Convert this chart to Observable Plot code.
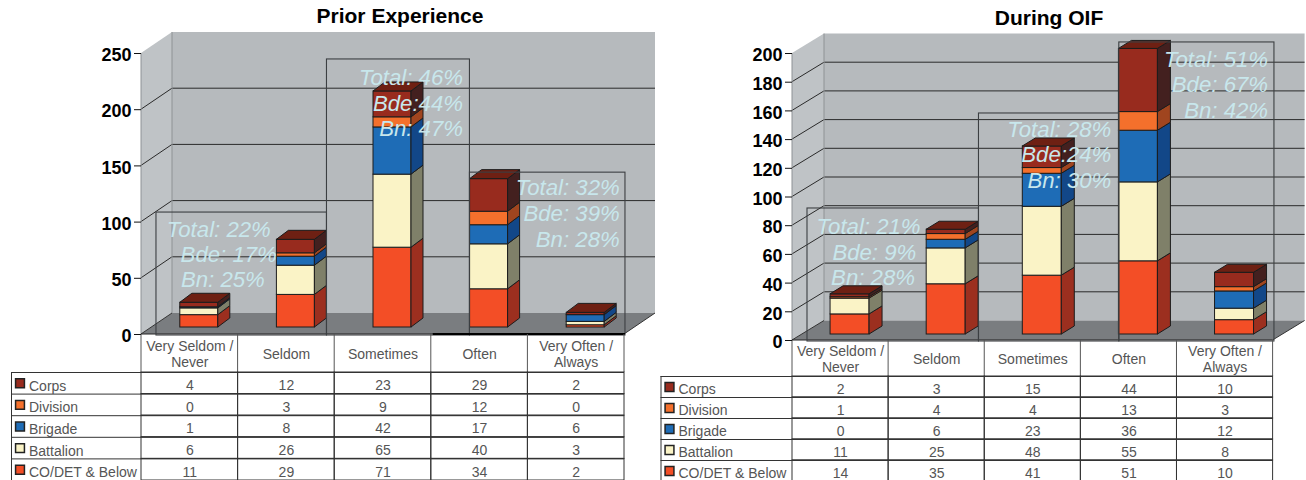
<!DOCTYPE html>
<html>
<head>
<meta charset="utf-8">
<script src="https://cdn.jsdelivr.net/npm/d3@7"></script>
<script src="https://cdn.jsdelivr.net/npm/@observablehq/plot@0.6"></script>
<style>
html,body{margin:0;padding:0;background:#fff;overflow:hidden;width:1306px;height:480px}
#page{position:relative;width:1306px;height:480px;overflow:hidden;font-family:"Liberation Sans",Arial,sans-serif}
#page>div,#page>svg,#page>figure{position:absolute;margin:0}
.title{font:bold 21px "Liberation Sans",Arial,sans-serif;color:#000;text-align:center;white-space:nowrap}
</style>
</head>
<body>
<div id="page"></div>
<script>
const categories = ["Very Seldom /\nNever", "Seldom", "Sometimes", "Often", "Very Often /\nAlways"];
const seriesNames = ["CO/DET & Below", "Battalion", "Brigade", "Division", "Corps"];
const seriesFront = ["#f34e26", "#faf3c6", "#1e6cb6", "#f4702c", "#982b1e"];
const seriesSide  = ["#9c2f1f", "#7f8069", "#124788", "#a0451f", "#43201f"];
const seriesTop   = ["#a8351f", "#8c8b70", "#14406f", "#a0451f", "#6e2013"];

const priorCoDet     = [11, 29, 71, 34, 2];
const priorBattalion = [6, 26, 65, 40, 3];
const priorBrigade   = [1, 8, 42, 17, 6];
const priorDivision  = [0, 3, 9, 12, 0];
const priorCorps     = [4, 12, 23, 29, 2];
const priorTicks     = [0, 50, 100, 150, 200, 250];
const priorNotes = [
  ["Total: 22%", 0, 93.4], ["Bde: 17%", 0, 71], ["Bn: 25%", 0, 49],
  ["Total: 46%", 2, 228.6], ["Bde:44%", 2, 205.5], ["Bn: 47%", 2, 183],
  ["Total: 32%", 4, 130], ["Bde: 39%", 4, 107], ["Bn: 28%", 4, 84]
];

const oifCoDet     = [14, 35, 41, 51, 10];
const oifBattalion = [11, 25, 48, 55, 8];
const oifBrigade   = [0, 6, 23, 36, 12];
const oifDivision  = [1, 4, 4, 13, 3];
const oifCorps     = [2, 3, 15, 44, 10];
const oifTicks     = [0, 20, 40, 60, 80, 100, 120, 140, 160, 180, 200];
const oifNotes = [
  ["Total: 21%", 0, 79.4], ["Bde: 9%", 0, 61.3], ["Bn: 28%", 0, 43.9],
  ["Total: 28%", 2, 147], ["Bde:24%", 2, 129], ["Bn: 30%", 2, 111],
  ["Total: 51%", 4, 195.8], ["Bde: 67%", 4, 178.4], ["Bn: 42%", 4, 160.3]
];

const NS = "http://www.w3.org/2000/svg";
function el(parent, tag, attrs) {
  const e = document.createElementNS(NS, tag);
  for (const k in attrs) e.setAttribute(k, attrs[k]);
  parent.appendChild(e);
  return e;
}
function poly(parent, pts, fill, stroke, sw) {
  return el(parent, "polygon", {points: pts.map(p => p.join(",")).join(" "), fill, stroke: stroke || "none", "stroke-width": sw || 1, "stroke-linejoin": "round"});
}

function panel(cfg) {
  const page = document.getElementById("page");
  const rowsData = [cfg.coDet, cfg.battalion, cfg.brigade, cfg.division, cfg.corps];
  const flat = [];
  seriesNames.forEach((s, si) => categories.forEach((c, ci) => flat.push({series: s, si, cat: c, ci, value: rowsData[si][ci]})));
  const color = {domain: seriesNames, range: seriesFront};
  const band = d3.scaleBand().domain(categories).range(cfg.xRange);
  const bw = cfg.barW, inset = (band.bandwidth() - bw) / 2;

  const walls = (index, scales) => {
    const g = document.createElementNS(NS, "g");
    const x0 = cfg.xRange[0], x1 = cfg.xRange[1], top = scales.y(cfg.yMax), bot = scales.y(0);
    const w = cfg.wall;
    poly(g, [[x0 + w.dx, top - w.dy], [x1 + w.dx, top - w.dy], [x1 + w.dx, bot - w.dy], [x0 + w.dx, bot - w.dy]], "#b6babd");
    poly(g, [[x0, top], [x0 + w.dx, top - w.dy], [x0 + w.dx, bot - w.dy], [x0, bot]], "#bfc3c6");
    for (const t of cfg.ticks) {
      if (t === 0 || t === cfg.yMax) continue;
      const y = scales.y(t);
      el(g, "line", {x1: x0, y1: y, x2: x0 + w.dx, y2: y - w.dy, stroke: "#2a2a2a", "stroke-width": 1});
      el(g, "line", {x1: x0 + w.dx, y1: y - w.dy, x2: x1 + w.dx, y2: y - w.dy, stroke: "#2a2a2a", "stroke-width": 1});
    }
    el(g, "line", {x1: x0 + w.dx, y1: top - w.dy, x2: x0 + w.dx, y2: bot - w.dy, stroke: "#8e9295"});
    el(g, "line", {x1: x0, y1: top, x2: x0, y2: bot, stroke: "#8e9295"});
    poly(g, [[x0, bot], [x1, bot], [x1 + w.dx, bot - w.dy], [x0 + w.dx, bot - w.dy]], "#7a7d80");
    el(g, "line", {x1: x1, y1: bot, x2: x1 + w.dx, y2: bot - w.dy, stroke: "#333"});
    el(g, "line", {x1: x0, y1: bot, x2: x0 + w.dx, y2: bot - w.dy, stroke: "#333"});
    el(g, "line", {x1: x0, y1: bot, x2: x1, y2: bot, stroke: "#222", "stroke-width": 1});
    return g;
  };

  const faces = (index, scales) => {
    const g = document.createElementNS(NS, "g");
    const ox = cfg.barShift.dx, oy = cfg.barShift.dy, d = cfg.barDepth;
    categories.forEach((c, ci) => {
      const xl = scales.x(c) + inset + ox, xr = xl + bw;
      let acc = 0, topIndex = 0;
      seriesNames.forEach((s, si) => {
        const v = rowsData[si][ci];
        if (!v) return;
        const yb = scales.y(acc) + oy, yt = scales.y(acc + v) + oy;
        poly(g, [[xr, yb], [xr + d.dx, yb - d.dy], [xr + d.dx, yt - d.dy], [xr, yt]], seriesSide[si], "#1c1c1c");
        acc += v; topIndex = si;
      });
      const yt = scales.y(acc) + oy;
      poly(g, [[xl, yt], [xr, yt], [xr + d.dx, yt - d.dy], [xl + d.dx, yt - d.dy]], seriesTop[topIndex], "#1c1c1c");
    });
    return g;
  };

  const overlays = (index, scales) => {
    const g = document.createElementNS(NS, "g");
    const step = band.step();
    const px = f => cfg.xRange[0] + f * step;
    for (const b of cfg.boxes) {
      el(g, "rect", {x: px(b.from), y: scales.y(b.top), width: px(b.to) - px(b.from), height: scales.y(0) - scales.y(b.top) + 1, fill: "none", stroke: "#3c3f42", "stroke-width": 1.1});
    }
    if (cfg.heavy) el(g, "line", {x1: px(cfg.heavy[0]), x2: px(cfg.heavy[1]), y1: scales.y(0), y2: scales.y(0), stroke: "#000", "stroke-width": 2});
    const hb = cfg.height;
    for (let i = 0; i <= categories.length; i++) {
      el(g, "line", {x1: px(i), x2: px(i), y1: scales.y(0), y2: hb, stroke: "#555"});
    }
    return g;
  };

  const notes = cfg.notes.map(([text, ci, value], i) => ({text, cat: categories[ci], value, dx: cfg.noteDx[i]}));

  const chart = Plot.plot({
    width: cfg.width, height: cfg.height,
    marginLeft: cfg.xRange[0], marginRight: cfg.width - cfg.xRange[1],
    marginTop: 0, marginBottom: cfg.height - cfg.yRange[0],
    style: {fontFamily: '"Liberation Sans",Arial,sans-serif', background: "transparent", overflow: "visible"},
    x: {type: "band", domain: categories, range: cfg.xRange, padding: 0, round: false},
    y: {domain: [0, cfg.yMax], range: cfg.yRange},
    color,
    marks: [
      walls,
      Plot.barY(flat.filter(d => d.value > 0), {
        x: "cat", y: "value", fill: "series", stroke: "#1c1c1c", strokeWidth: 1,
        insetLeft: inset, insetRight: inset, dx: cfg.barShift.dx, dy: cfg.barShift.dy
      }),
      faces,
      overlays,
      Plot.axisY({ticks: cfg.ticks, label: null, tickSize: 7, tickFormat: () => "", stroke: "#111"}),
      Plot.axisY({ticks: cfg.ticks, label: null, tickSize: 0, tickPadding: 10, dy: 2, fontSize: 18, fontWeight: "bold", fill: "#000"}),
      Plot.axisX({label: null, tickSize: 0, tickPadding: 0, fontSize: 14, fill: "#555", lineAnchor: "middle", lineHeight: 1.15, dy: cfg.headerDy}),
      ...notes.map(n => Plot.text([n], {
        x: "cat", y: "value", text: "text", dx: n.dx, textAnchor: "end",
        fontSize: 22.2, fontStyle: "italic", fill: "#c8e7ec"
      }))
    ]
  });
  chart.style.left = cfg.left + "px";
  chart.style.top = "0px";
  page.appendChild(chart);

  const rows = seriesNames.slice().reverse();
  const h = cfg.rowH * rows.length;
  const table = Plot.plot({
    width: cfg.width, height: h,
    marginLeft: cfg.tableLeft, marginRight: cfg.width - cfg.xRange[1], marginTop: 0, marginBottom: 0,
    style: {fontFamily: '"Liberation Sans",Arial,sans-serif', background: "transparent", overflow: "visible"},
    x: {type: "band", domain: categories, range: cfg.xRange, padding: 0, round: false, axis: null},
    y: {type: "band", domain: rows, range: [0, h], padding: 0, round: false, axis: null},
    color,
    marks: [
      Plot.cell(flat, {x: "cat", y: "series", fill: "none", stroke: "#333"}),
      Plot.ruleY(rows, {y: d => d, dy: cfg.rowH / 2, stroke: "#333"}),
      Plot.ruleY(rows.slice(0, 1), {y: d => d, dy: -cfg.rowH / 2, stroke: "#333"}),
      Plot.frame({anchor: "left", stroke: "#333"}),
      Plot.dot(rows, {y: d => d, frameAnchor: "left", dx: 8.5, symbol: "square", r: 5, fill: d => d, stroke: "#222"}),
      Plot.text(rows, {y: d => d, text: d => d, frameAnchor: "left", dx: 17.5, textAnchor: "start", fontSize: 14, fill: "#555", dy: 3}),
      Plot.text(flat, {x: "cat", y: "series", text: d => String(d.value), fontSize: 14, fill: "#555", dy: 2.5})
    ]
  });
  table.style.left = cfg.left + "px";
  table.style.top = cfg.height + "px";
  page.appendChild(table);

  const t = document.createElement("div");
  t.className = "title";
  t.textContent = cfg.title;
  t.style.left = (cfg.titleX - 150) + "px";
  t.style.width = "300px";
  t.style.top = cfg.titleY + "px";
  page.appendChild(t);
}

panel({
  title: "Prior Experience", titleX: 400, titleY: 4,
  left: 0, width: 660, height: 372,
  xRange: [141, 624], yRange: [334, 53], yMax: 250, ticks: priorTicks,
  coDet: priorCoDet, battalion: priorBattalion, brigade: priorBrigade, division: priorDivision, corps: priorCorps,
  wall: {dx: 31, dy: 21}, barW: 38, barShift: {dx: 9.5, dy: -7}, barDepth: {dx: 12, dy: 9},
  notes: priorNotes, noteDx: [81, 87, 75, 80, 80, 80, 43.5, 43.5, 43.5], headerDy: 19,
  boxes: [{from: 0.155, to: 1.92, top: 108.5}, {from: 1.92, to: 3.4, top: 244.7}, {from: 3.4, to: 5.01, top: 144}],
  heavy: [3.02, 5.01], tableLeft: 11, rowH: 21.6
});
panel({
  title: "During OIF", titleX: 1049, titleY: 6,
  left: 650, width: 656, height: 376,
  xRange: [142, 622.6], yRange: [340, 53], yMax: 200, ticks: oifTicks,
  coDet: oifCoDet, battalion: oifBattalion, brigade: oifBrigade, division: oifDivision, corps: oifCorps,
  wall: {dx: 32, dy: 19.5}, barW: 39, barShift: {dx: 9.5, dy: -6}, barDepth: {dx: 13, dy: 8},
  notes: oifNotes, noteDx: [80, 75.7, 74.4, 78.5, 78.5, 78.5, 43, 43, 43], headerDy: 18,
  boxes: [{from: 0.156, to: 1.94, top: 92}, {from: 1.94, to: 3.4, top: 158.2}, {from: 3.4, to: 5.014, top: 207.7}],
  tableLeft: 10.5, rowH: 21
});
</script>
</body>
</html>
